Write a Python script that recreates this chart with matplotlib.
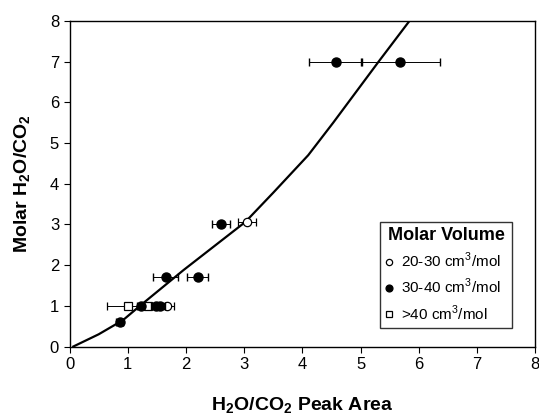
import matplotlib
matplotlib.use("Agg")
import matplotlib.pyplot as plt

plt.rcParams['font.family'] = ['Liberation Sans', 'DejaVu Sans']
plt.rcParams['mathtext.fontset'] = 'custom'
plt.rcParams['mathtext.rm'] = 'Liberation Sans'
plt.rcParams['mathtext.bf'] = 'Liberation Sans:bold'

# calibration curve
curve_x = [0.065, 0.5, 0.92, 1.21, 1.96, 3.02, 3.5, 4.1, 4.53, 5.31, 5.84]
curve_y = [0.0, 0.3, 0.65, 1.0, 1.88, 3.06, 3.78, 4.7, 5.5, 7.0, 8.0]

# 20-30 cm3/mol (open circles)
open_x = [3.05, 1.68]
open_y = [3.05, 1.0]
open_err = [0.15, 0.12]

# 30-40 cm3/mol (filled circles)
fill_x = [4.57, 5.68, 2.6, 1.65, 2.2, 1.22, 1.48, 1.56, 0.86]
fill_y = [7.0, 7.0, 3.02, 1.7, 1.7, 1.0, 1.0, 1.0, 0.6]
fill_err = [0.46, 0.68, 0.16, 0.22, 0.18, 0.06, 0.08, 0.08, 0.06]

# >40 cm3/mol (open squares)
sq_x = [1.0, 1.35]
sq_y = [1.0, 1.0]
sq_err = [0.35, 0.1]

fig = plt.figure(figsize=(5.39, 4.18), dpi=100)
ax = fig.add_axes([0.129, 0.171, 0.864, 0.779])

ax.plot(curve_x, curve_y, color='black', lw=1.6, zorder=2)

ax.errorbar(open_x, open_y, xerr=open_err, fmt='o', ms=6, mfc='white', mec='black',
            mew=0.9, ecolor='black', elinewidth=0.7, capsize=3, zorder=3,
            label='20-30 cm$^3$/mol')
ax.errorbar(fill_x, fill_y, xerr=fill_err, fmt='o', ms=6.5, mfc='black', mec='black',
            ecolor='black', elinewidth=0.7, capsize=3, zorder=4,
            label='30-40 cm$^3$/mol')
ax.errorbar(sq_x, sq_y, xerr=sq_err, fmt='s', ms=6, mfc='white', mec='black',
            mew=0.9, ecolor='black', elinewidth=0.7, capsize=3, zorder=3,
            label='>40 cm$^3$/mol')

ax.set_xlim(0, 8)
ax.set_ylim(0, 8)
ax.set_xticks(range(0, 9))
ax.set_yticks(range(0, 9))
ax.tick_params(direction='out', length=4, width=0.8, labelsize=12)
for s in ax.spines.values():
    s.set_linewidth(1.0)

ax.set_xlabel(r'H$_\mathbf{2}$O/CO$_\mathbf{2}$ Peak Area', fontsize=14,
              fontweight='bold', labelpad=17)
ax.set_ylabel(r'Molar H$_\mathbf{2}$O/CO$_\mathbf{2}$', fontsize=14,
              fontweight='bold', labelpad=12)

handles, labels = ax.get_legend_handles_labels()
handles = [h[0] for h in handles]
leg = ax.legend(handles, labels, title='Molar Volume', loc='lower left',
                bbox_to_anchor=(0.667, 0.057, 0.283, 0.316), mode='expand',
                borderaxespad=0, fontsize=11,
                title_fontproperties={'weight': 'bold', 'size': 13},
                frameon=True, fancybox=False, edgecolor='black', handlelength=0.5,
                handletextpad=0.5, borderpad=0.35, labelspacing=0.45, markerscale=0.75)
leg.get_frame().set_linewidth(1.0)

fig.savefig('out.png', dpi=100)
